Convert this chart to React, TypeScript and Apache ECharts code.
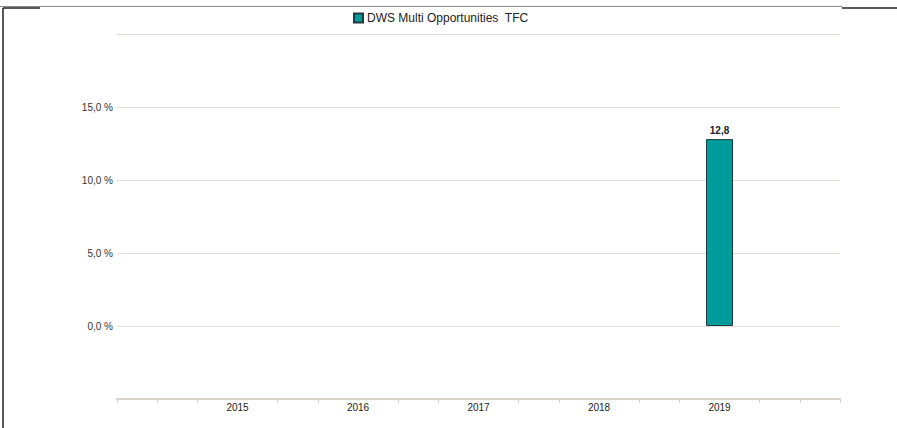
import React, { useEffect, useRef } from "react";
import * as echarts from "echarts";

const seriesName = "DWS Multi Opportunities  TFC";
const years = ["2015", "2016", "2017", "2018", "2019"];
const values: (number | null)[] = [null, null, null, null, 12.8];
const yTicks = [-5, 0, 5, 10, 15, 20];
const shownYTicks = [0, 5, 10, 15];

// each year occupies 3 slots on the axis (ticks every third of a year)
const SLOTS_PER_YEAR = 3;
const categories: string[] = [];
const barData: (number | null)[] = [];
const totalSlots = (years.length + 1) * SLOTS_PER_YEAR + 1;
for (let i = 0; i < totalSlots; i++) {
  const yearIdx = i / SLOTS_PER_YEAR - 1;
  if (Number.isInteger(yearIdx) && yearIdx >= 0 && yearIdx < years.length) {
    categories.push(years[yearIdx]);
    barData.push(values[yearIdx]);
  } else {
    categories.push("");
    barData.push(null);
  }
}

export default function App() {
  const ref = useRef<HTMLDivElement>(null);
  useEffect(() => {
    if (!ref.current) return;
    const chart = echarts.init(ref.current, null, { renderer: "svg" });
    const font = "'Liberation Sans', Arial, sans-serif";
    chart.setOption({
      animation: false,
      backgroundColor: "#ffffff",
      textStyle: { fontFamily: font },
      legend: {
        left: 348,
        top: 7,
        itemWidth: 9,
        itemHeight: 9,
        itemGap: 10,
        icon: "rect",
        textStyle: { fontSize: 12, color: "#222", fontFamily: font, padding: [0, 0, 0, -1] },
        data: [seriesName],
      },
      grid: { left: 117, right: 57, top: 34, bottom: 29, containLabel: false },
      xAxis: {
        type: "category",
        data: categories,
        boundaryGap: false,
        axisLine: { show: true, onZero: false, lineStyle: { color: "#d9d3c7", width: 2 } },
        axisTick: {
          show: true,
          length: 4,
          lineStyle: { color: "#d6d0c4", width: 1 },
          interval: (i: number) => i % SLOTS_PER_YEAR !== 0 || i === 0 || i === totalSlots - 1,
        },
        axisLabel: {
          interval: 0,
          margin: 3,
          fontSize: 10,
          color: "#222",
          fontFamily: font,
        },
        splitLine: { show: false },
      },
      yAxis: {
        type: "value",
        min: yTicks[0],
        max: yTicks[yTicks.length - 1],
        interval: 5,
        axisLine: { show: false },
        axisTick: { show: false },
        axisLabel: {
          margin: 4,
          fontSize: 10,
          color: "#333",
          fontFamily: font,
          formatter: (v: number) =>
            shownYTicks.includes(v) ? v.toFixed(1).replace(".", ",") + " %" : "",
        },
        splitLine: { show: true, lineStyle: { color: "#e2dfd8", width: 1 } },
      },
      series: [
        {
          name: seriesName,
          type: "bar",
          data: barData,
          barWidth: 27,
          itemStyle: { color: "#009b9b", borderColor: "#1e3c3c", borderWidth: 1 },
          label: {
            show: true,
            position: "top",
            distance: 4,
            fontSize: 10,
            fontWeight: "bold",
            color: "#222",
            fontFamily: font,
            formatter: (p: any) => String(p.value).replace(".", ","),
          },
        },
      ],
      graphic: [
        { type: "line", shape: { x1: 0, y1: 6.5, x2: 842, y2: 6.5 }, style: { stroke: "#8a8a8a", lineWidth: 1 }, silent: true },
        { type: "line", shape: { x1: 842, y1: 8, x2: 897, y2: 8 }, style: { stroke: "#222", lineWidth: 1.5 }, silent: true },
        { type: "line", shape: { x1: 3, y1: 8, x2: 40, y2: 8 }, style: { stroke: "#222", lineWidth: 1.5 }, silent: true },
        { type: "line", shape: { x1: 3, y1: 8, x2: 3, y2: 428 }, style: { stroke: "#222", lineWidth: 1.5 }, silent: true },
      ],
    });
    return () => chart.dispose();
  }, []);
  return (
    <div
      ref={ref}
      style={{ position: "fixed", left: 0, top: 0, width: 897, height: 428 }}
    />
  );
}
